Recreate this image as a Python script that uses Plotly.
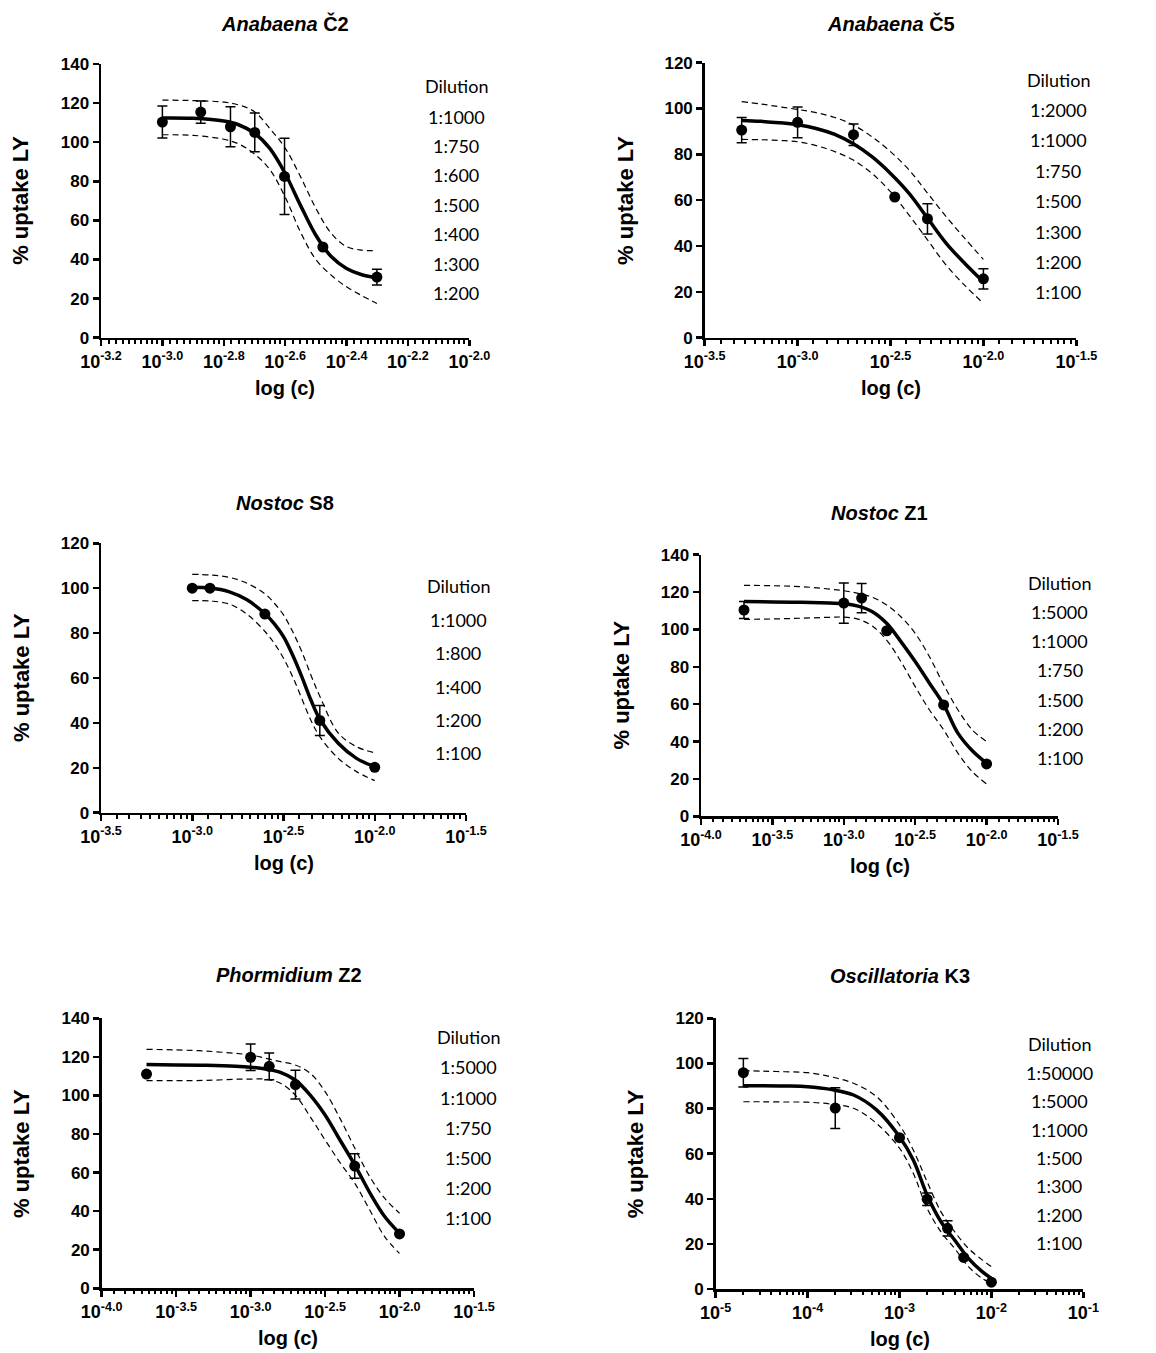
import plotly.graph_objects as go

W, H = 1156, 1353

# ---------------- DATA ----------------
# Panel 1: Anabaena Č2
title1 = "<b><i>Anabaena</i> Č2</b>"
dil1 = [1000, 750, 600, 500, 400, 300, 200]
mean1 = [110.3, 115.4, 107.9, 105.0, 82.5, 46.4, 31.0]
sd1 = [8.2, 5.7, 10.2, 9.9, 19.5, 0, 4.0]
logc1 = [-3.0, -2.9, -2.8, -2.75, -2.7, -2.65, -2.6, -2.55, -2.5, -2.45, -2.4, -2.35, -2.301]
fit1 = [112.4, 112.2, 110.8, 108.8, 104.6, 96.8, 84.0, 67.7, 52.4, 41.5, 35.4, 32.2, 30.7]
upper1 = [121.5, 121.3, 120.5, 119.0, 115.6, 107.0, 97.0, 82.4, 66.2, 53.4, 46.6, 44.8, 44.5]
lower1 = [103.8, 103.5, 101.5, 99.0, 94.0, 86.0, 72.0, 54.0, 40.0, 32.0, 26.0, 21.5, 17.5]
labels1 = ["1:1000", "1:750", "1:600", "1:500", "1:400", "1:300", "1:200"]
xticks1 = [-3.2, -3.0, -2.8, -2.6, -2.4, -2.2, -2.0]
xtext1 = ["-3.2", "-3.0", "-2.8", "-2.6", "-2.4", "-2.2", "-2.0"]
yticks1 = [0, 20, 40, 60, 80, 100, 120, 140]

# Panel 2: Anabaena Č5
title2 = "<b><i>Anabaena</i> Č5</b>"
dil2 = [2000, 1000, 500, 300, 200, 100]
mean2 = [90.6, 94.0, 88.6, 61.4, 51.9, 25.7]
sd2 = [5.5, 6.7, 4.7, 0, 6.6, 4.4]
logc2 = [-3.301, -3.2, -3.1, -3.0, -2.9, -2.8, -2.7, -2.6, -2.5, -2.4, -2.3, -2.2, -2.1, -2.0]
fit2 = [94.8, 94.4, 93.8, 92.9, 91.3, 88.7, 84.6, 79.0, 71.7, 63.0, 52.1, 41.2, 32.4, 24.4]
upper2 = [103.0, 102.0, 100.8, 99.6, 98.2, 96.1, 92.8, 87.7, 81.2, 73.2, 63.0, 52.8, 43.3, 34.2]
lower2 = [86.5, 86.4, 86.1, 85.5, 83.8, 81.2, 77.5, 71.7, 63.7, 53.5, 42.6, 31.6, 22.8, 15.0]
labels2 = ["1:2000", "1:1000", "1:750", "1:500", "1:300", "1:200", "1:100"]
xticks2 = [-3.5, -3.0, -2.5, -2.0, -1.5]
xtext2 = ["-3.5", "-3.0", "-2.5", "-2.0", "-1.5"]
yticks2 = [0, 20, 40, 60, 80, 100, 120]

# Panel 3: Nostoc S8
title3 = "<b><i>Nostoc</i> S8</b>"
dil3 = [1000, 800, 400, 200, 100]
mean3 = [100.0, 100.0, 88.5, 41.1, 20.2]
sd3 = [0, 0, 0, 6.7, 0]
logc3 = [-3.0, -2.903, -2.8, -2.7, -2.6, -2.55, -2.5, -2.45, -2.4, -2.35, -2.3, -2.2, -2.1, -2.0]
fit3 = [100.4, 100.1, 98.5, 94.8, 88.5, 84.1, 78.4, 70.2, 60.6, 50.2, 41.5, 30.9, 24.2, 20.5]
upper3 = [106.2, 105.9, 104.9, 102.2, 97.4, 93.3, 88.1, 80.7, 71.8, 61.3, 51.7, 35.5, 29.4, 26.7]
lower3 = [94.5, 94.3, 93.0, 88.4, 80.6, 75.4, 68.8, 60.6, 50.9, 41.2, 33.8, 24.2, 18.3, 14.3]
labels3 = ["1:1000", "1:800", "1:400", "1:200", "1:100"]
xticks3 = [-3.5, -3.0, -2.5, -2.0, -1.5]
xtext3 = ["-3.5", "-3.0", "-2.5", "-2.0", "-1.5"]
yticks3 = [0, 20, 40, 60, 80, 100, 120]

# Panel 4: Nostoc Z1
title4 = "<b><i>Nostoc</i> Z1</b>"
dil4 = [5000, 1000, 750, 500, 200, 100]
mean4 = [110.4, 114.1, 116.8, 99.3, 59.6, 28.0]
sd4 = [4.5, 10.8, 7.8, 0, 0, 0]
logc4 = [-3.699, -3.5, -3.3, -3.1, -3.0, -2.9, -2.8, -2.7, -2.6, -2.5, -2.4, -2.3, -2.2, -2.1, -2.0]
fit4 = [114.9, 114.7, 114.5, 114.1, 113.8, 112.5, 109.5, 103.3, 93.5, 82.8, 71.2, 59.6, 44.4, 35.1, 28.4]
upper4 = [123.6, 123.4, 122.9, 121.6, 120.7, 119.3, 117.2, 113.1, 106.8, 97.9, 85.4, 70.3, 56.9, 46.2, 40.0]
lower4 = [105.4, 105.6, 106.0, 106.5, 106.6, 105.5, 101.8, 94.3, 82.8, 69.4, 56.9, 46.2, 33.7, 23.9, 17.3]
labels4 = ["1:5000", "1:1000", "1:750", "1:500", "1:200", "1:100"]
xticks4 = [-4.0, -3.5, -3.0, -2.5, -2.0, -1.5]
xtext4 = ["-4.0", "-3.5", "-3.0", "-2.5", "-2.0", "-1.5"]
yticks4 = [0, 20, 40, 60, 80, 100, 120, 140]

# Panel 5: Phormidium Z2
title5 = "<b><i>Phormidium</i> Z2</b>"
dil5 = [5000, 1000, 750, 500, 200, 100]
mean5 = [111.1, 119.8, 115.1, 105.6, 63.4, 28.2]
sd5 = [0, 6.9, 6.9, 7.5, 6.4, 0]
logc5 = [-3.699, -3.5, -3.3, -3.1, -3.0, -2.9, -2.8, -2.7, -2.6, -2.5, -2.4, -2.3, -2.2, -2.1, -2.0]
fit5 = [116.0, 115.8, 115.6, 115.1, 114.6, 113.7, 112.0, 108.0, 100.2, 89.9, 76.9, 63.9, 49.6, 37.2, 28.5]
upper5 = [123.9, 123.6, 123.0, 121.8, 121.0, 119.3, 117.5, 115.8, 111.5, 102.0, 88.1, 72.6, 57.9, 46.7, 38.9]
lower5 = [107.7, 107.7, 107.8, 108.4, 108.5, 108.4, 106.3, 100.2, 89.0, 76.9, 65.2, 54.4, 40.6, 26.8, 18.1]
labels5 = ["1:5000", "1:1000", "1:750", "1:500", "1:200", "1:100"]
xticks5 = [-4.0, -3.5, -3.0, -2.5, -2.0, -1.5]
xtext5 = ["-4.0", "-3.5", "-3.0", "-2.5", "-2.0", "-1.5"]
yticks5 = [0, 20, 40, 60, 80, 100, 120, 140]

# Panel 6: Oscillatoria K3
title6 = "<b><i>Oscillatoria</i> K3</b>"
dil6 = [50000, 5000, 1000, 500, 300, 200, 100]
mean6 = [95.9, 80.2, 67.1, 39.8, 26.9, 14.0, 3.0]
sd6 = [6.3, 9.0, 0, 2.8, 3.4, 0, 0]
logc6 = [-4.699, -4.5, -4.25, -4.0, -3.75, -3.5, -3.25, -3.0, -2.85, -2.7, -2.55, -2.4, -2.25, -2.1, -2.0]
fit6 = [90.1, 90.1, 90.0, 89.7, 88.5, 86.0, 79.4, 67.5, 57.2, 41.7, 29.9, 21.7, 13.6, 7.7, 4.7]
upper6 = [96.8, 96.6, 96.3, 95.9, 94.1, 91.2, 85.3, 72.7, 61.6, 47.6, 34.3, 25.4, 18.0, 12.9, 9.9]
lower6 = [83.0, 83.0, 82.9, 82.8, 82.0, 80.1, 73.4, 62.4, 51.3, 35.8, 25.4, 18.0, 9.9, 4.7, 2.5]
labels6 = ["1:50000", "1:5000", "1:1000", "1:500", "1:300", "1:200", "1:100"]
xticks6 = [-5, -4, -3, -2, -1]
xtext6 = ["-5", "-4", "-3", "-2", "-1"]
yticks6 = [0, 20, 40, 60, 80, 100, 120]

# ---------------- LAYOUT (pixel boxes) ----------------
panels = [
    dict(title=title1, dil=dil1, mean=mean1, sd=sd1, logc=logc1, fit=fit1, up=upper1, lo=lower1,
         labels=labels1, xt=xticks1, xtxt=xtext1, yt=yticks1, box=(101, 469.3, 64, 337.7),
         tpos=(285, 24), dpos=(456, 86, 116.7, 29.4), decade=False),
    dict(title=title2, dil=dil2, mean=mean2, sd=sd2, logc=logc2, fit=fit2, up=upper2, lo=lower2,
         labels=labels2, xt=xticks2, xtxt=xtext2, yt=yticks2, box=(704.7, 1076.3, 62.7, 337.7),
         tpos=(890.5, 24), dpos=(1058, 80, 110, 30.4), decade=False),
    dict(title=title3, dil=dil3, mean=mean3, sd=sd3, logc=logc3, fit=fit3, up=upper3, lo=lower3,
         labels=labels3, xt=xticks3, xtxt=xtext3, yt=yticks3, box=(101, 466, 543.3, 812.7),
         tpos=(285, 503.3), dpos=(458, 586, 620, 33.3), decade=False),
    dict(title=title4, dil=dil4, mean=mean4, sd=sd4, logc=logc4, fit=fit4, up=upper4, lo=lower4,
         labels=labels4, xt=xticks4, xtxt=xtext4, yt=yticks4, box=(701, 1058, 554.7, 816.3),
         tpos=(879, 513.3), dpos=(1059.7, 582.7, 611.7, 29.3), decade=False),
    dict(title=title5, dil=dil5, mean=mean5, sd=sd5, logc=logc5, fit=fit5, up=upper5, lo=lower5,
         labels=labels5, xt=xticks5, xtxt=xtext5, yt=yticks5, box=(101.7, 474, 1018.3, 1288.3),
         tpos=(289, 975), dpos=(468.3, 1037.3, 1067.3, 30.2), decade=False),
    dict(title=title6, dil=dil6, mean=mean6, sd=sd6, logc=logc6, fit=fit6, up=upper6, lo=lower6,
         labels=labels6, xt=xticks6, xtxt=xtext6, yt=yticks6, box=(715.7, 1083.3, 1018.3, 1289),
         tpos=(900, 976), dpos=(1059, 1044, 1072.7, 28.4), decade=True),
]

AX_FONT = "Liberation Sans, Arial, sans-serif"
DIL_FONT = "Lato, Open Sans, sans-serif"


def minor_vals(major, decade):
    vals = []
    for a, b in zip(major[:-1], major[1:]):
        va, vb = 10 ** a, 10 ** b
        if decade:
            vals += [m * va for m in range(2, 10)]
        else:
            vals += [va + k * (vb - va) / 10 for k in range(1, 10)]
    return vals


fig = go.Figure()
layout = dict(width=W, height=H, margin=dict(l=0, r=0, t=0, b=0, pad=0, autoexpand=False),
              paper_bgcolor="white", plot_bgcolor="white", showlegend=False,
              hovermode=False)
annotations = []

for i, p in enumerate(panels):
    n = "" if i == 0 else str(i + 1)
    xa, ya = "x" + n, "y" + n
    x0, x1, ytop, ybot = p["box"]
    conc = [1.0 / d for d in p["dil"]]
    cx = [10 ** v for v in p["logc"]]
    dash = dict(color="black", width=1.2, dash="6px,4px")
    fig.add_trace(go.Scatter(x=cx, y=p["up"], mode="lines", line=dash, line_shape="spline",
                             xaxis=xa, yaxis=ya, hoverinfo="skip"))
    fig.add_trace(go.Scatter(x=cx, y=p["lo"], mode="lines", line=dash, line_shape="spline",
                             xaxis=xa, yaxis=ya, hoverinfo="skip"))
    fig.add_trace(go.Scatter(x=cx, y=p["fit"], mode="lines",
                             line=dict(color="black", width=3.5, shape="spline"),
                             xaxis=xa, yaxis=ya, hoverinfo="skip"))
    fig.add_trace(go.Scatter(x=conc, y=p["mean"], mode="markers",
                             marker=dict(color="black", size=11, symbol="circle"),
                             error_y=dict(type="data", array=p["sd"], visible=True,
                                          color="black", thickness=1.5, width=5),
                             cliponaxis=False, xaxis=xa, yaxis=ya))

    layout["xaxis" + n] = dict(
        domain=[x0 / W, x1 / W], anchor=ya, type="log", automargin=False,
        range=[p["xt"][0], p["xt"][-1]],
        tickmode="array", tickvals=[10 ** v for v in p["xt"]],
        ticktext=["<b>10<sup>%s</sup></b>" % t for t in p["xtxt"]],
        ticks="outside", ticklen=6, tickwidth=2.5, tickcolor="black",
        showline=True, linewidth=2.5, linecolor="black",
        showgrid=False, zeroline=False,
        tickfont=dict(family=AX_FONT, size=18, color="black"),
        minor=dict(tickmode="array", tickvals=minor_vals(p["xt"], p["decade"]),
                   ticks="outside", ticklen=3.5, tickwidth=2, tickcolor="black", showgrid=False),
    )
    layout["yaxis" + n] = dict(
        domain=[1 - ybot / H, 1 - ytop / H], anchor=xa, automargin=False,
        range=[0, p["yt"][-1]],
        tickmode="array", tickvals=p["yt"], ticktext=["<b>%d</b>" % v for v in p["yt"]],
        ticks="outside", ticklen=6, tickwidth=2.5, tickcolor="black",
        showline=True, linewidth=2.5, linecolor="black",
        showgrid=False, zeroline=False,
        tickfont=dict(family=AX_FONT, size=17, color="black"),
    )

    # panel title
    tx, ty = p["tpos"]
    annotations.append(dict(text=p["title"], x=tx / W, y=1 - ty / H, xref="paper", yref="paper",
                            showarrow=False, xanchor="center", yanchor="middle",
                            font=dict(family=AX_FONT, size=20, color="black")))
    # x-axis title
    annotations.append(dict(text="<b>log (c)</b>", x=(x0 + x1) / 2 / W, y=1 - (ybot + 50) / H,
                            xref="paper", yref="paper", showarrow=False,
                            xanchor="center", yanchor="middle",
                            font=dict(family=AX_FONT, size=20, color="black")))
    # y-axis title
    annotations.append(dict(text="<b>% uptake LY</b>", x=(x0 - 80) / W, y=1 - (ytop + ybot) / 2 / H,
                            xref="paper", yref="paper", showarrow=False, textangle=-90,
                            xanchor="center", yanchor="middle",
                            font=dict(family=AX_FONT, size=22, color="black")))
    # dilution column
    dx, dy, ry0, step = p["dpos"]
    annotations.append(dict(text="Dilution", x=dx / W, y=1 - dy / H, xref="paper", yref="paper",
                            showarrow=False, xanchor="center", yanchor="middle",
                            font=dict(family=DIL_FONT, size=18, color="black")))
    for k, lab in enumerate(p["labels"]):
        annotations.append(dict(text=lab, x=dx / W, y=1 - (ry0 + k * step) / H,
                                xref="paper", yref="paper", showarrow=False,
                                xanchor="center", yanchor="middle",
                                font=dict(family=DIL_FONT, size=18, color="black")))

layout["annotations"] = annotations
fig.update_layout(**layout)
fig.write_html("out.html", config={"displayModeBar": False, "staticPlot": True},
               post_script="document.body.style.margin='0';document.body.style.overflow='hidden';")
